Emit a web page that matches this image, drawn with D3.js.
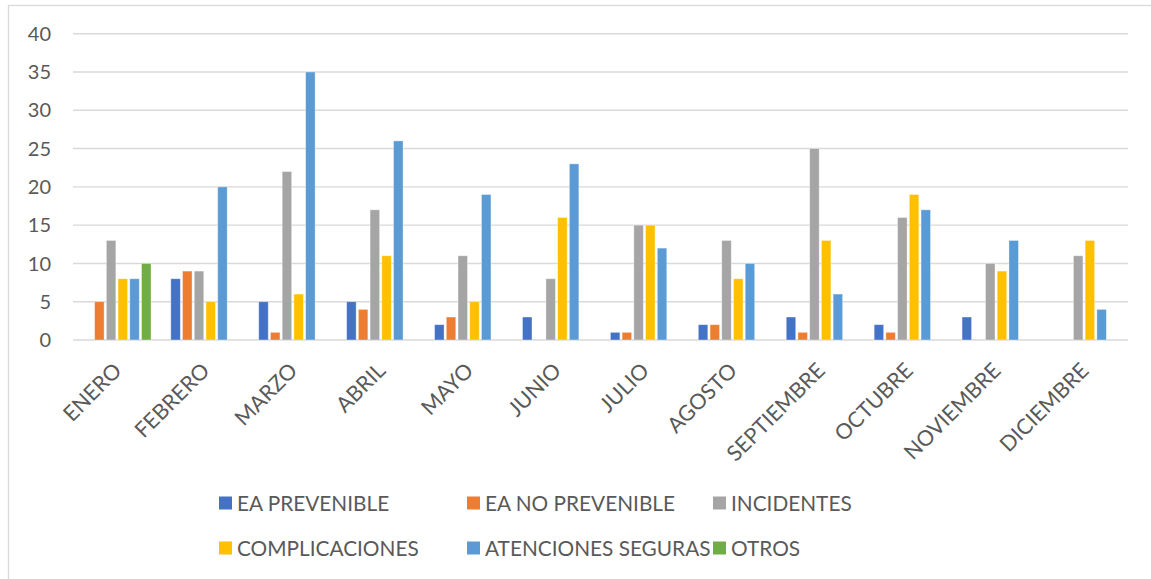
<!DOCTYPE html>
<html>
<head>
<meta charset="utf-8">
<script src="https://cdn.jsdelivr.net/npm/d3@7"></script>
<style>
  html, body { margin: 0; padding: 0; background: #fff; }
  svg { display: block; }
  text { font-family: Lato, "Open Sans", sans-serif; fill: #595959; }
</style>
</head>
<body>
<svg id="chart" width="1151" height="579"></svg>
<script>
// Monthly counts per event type
const months = ["ENERO", "FEBRERO", "MARZO", "ABRIL", "MAYO", "JUNIO",
                "JULIO", "AGOSTO", "SEPTIEMBRE", "OCTUBRE", "NOVIEMBRE", "DICIEMBRE"];

const seriesNames = ["EA PREVENIBLE", "EA NO PREVENIBLE", "INCIDENTES",
                     "COMPLICACIONES", "ATENCIONES SEGURAS", "OTROS"];

const eaPrevenible     = [0, 8, 5, 5, 2, 3, 1, 2, 3, 2, 3, 0];
const eaNoPrevenible   = [5, 9, 1, 4, 3, 0, 1, 2, 1, 1, 0, 0];
const incidentes       = [13, 9, 22, 17, 11, 8, 15, 13, 25, 16, 10, 11];
const complicaciones   = [8, 5, 6, 11, 5, 16, 15, 8, 13, 19, 9, 13];
const atencionesSeguras= [8, 20, 35, 26, 19, 23, 12, 10, 6, 17, 13, 4];
const otros            = [10, 0, 0, 0, 0, 0, 0, 0, 0, 0, 0, 0];

const yTicks = [0, 5, 10, 15, 20, 25, 30, 35, 40];

const seriesValues = [eaPrevenible, eaNoPrevenible, incidentes,
                      complicaciones, atencionesSeguras, otros];
const colors = ["#4472C4", "#ED7D31", "#A5A5A5", "#FFC000", "#5B9BD5", "#70AD47"];

const svg = d3.select("#chart");

// Outer chart frame (only top and left edges fall inside the canvas)
svg.append("rect")
  .attr("x", 8.5).attr("y", 5.5)
  .attr("width", 1200).attr("height", 700)
  .attr("fill", "none").attr("stroke", "#d9d9d9").attr("stroke-width", 1.3);

const plot = { left: 73, right: 1128, top: 33.7, bottom: 340 };

const x = d3.scaleBand().domain(months).range([plot.left, plot.right]).paddingInner(0).paddingOuter(0);
const groupFrac = 0.8;
const xInner = d3.scaleBand().domain(seriesNames)
  .range([0, x.bandwidth() * groupFrac]).paddingInner(0.19).paddingOuter(0.095);
const y = d3.scaleLinear().domain([0, 40]).range([plot.bottom, plot.top]);

// Horizontal gridlines
svg.append("g")
  .selectAll("line")
  .data(yTicks)
  .join("line")
  .attr("x1", plot.left).attr("x2", plot.right)
  .attr("y1", d => y(d)).attr("y2", d => y(d))
  .attr("stroke", "#d9d9d9").attr("stroke-width", 1.4);

// Y axis labels
svg.append("g")
  .selectAll("text")
  .data(yTicks)
  .join("text")
  .attr("x", 51)
  .attr("y", d => y(d))
  .attr("dy", "0.36em")
  .attr("text-anchor", "end")
  .attr("font-size", 20)
  .text(d => d);

// Bars
const groupOffset = x.bandwidth() * (1 - groupFrac) / 2;
const rows = [];
months.forEach((m, i) => {
  seriesNames.forEach((s, j) => {
    rows.push({ month: m, series: s, value: seriesValues[j][i], color: colors[j] });
  });
});

svg.append("g")
  .selectAll("rect")
  .data(rows.filter(d => d.value > 0))
  .join("rect")
  .attr("x", d => x(d.month) + groupOffset + xInner(d.series))
  .attr("width", xInner.bandwidth())
  .attr("y", d => y(d.value))
  .attr("height", d => y(0) - y(d.value))
  .attr("fill", d => d.color)
  .attr("stroke", "rgba(255,255,255,0.45)")
  .attr("stroke-width", 0.8);

// Rotated month labels
svg.append("g")
  .selectAll("text")
  .data(months)
  .join("text")
  .attr("text-anchor", "end")
  .attr("font-size", 21.5)
  .attr("transform", d => `translate(${x(d) + x.bandwidth() / 2 + 6},${372}) rotate(-45)`)
  .text(d => d);

// Legend: three columns, two rows
const legendCols = [219, 467, 713];
const legendRows = [503, 548];
const legend = svg.append("g")
  .selectAll("g")
  .data(seriesNames)
  .join("g")
  .attr("transform", (d, i) => `translate(${legendCols[i % 3]},${legendRows[Math.floor(i / 3)]})`);

legend.append("rect")
  .attr("x", 0).attr("y", -6.5)
  .attr("width", 13).attr("height", 13)
  .attr("fill", (d, i) => colors[i]);

legend.append("text")
  .attr("x", 18).attr("y", 0)
  .attr("dy", "0.36em")
  .attr("font-size", 20.8)
  .text(d => d);
</script>
</body>
</html>
